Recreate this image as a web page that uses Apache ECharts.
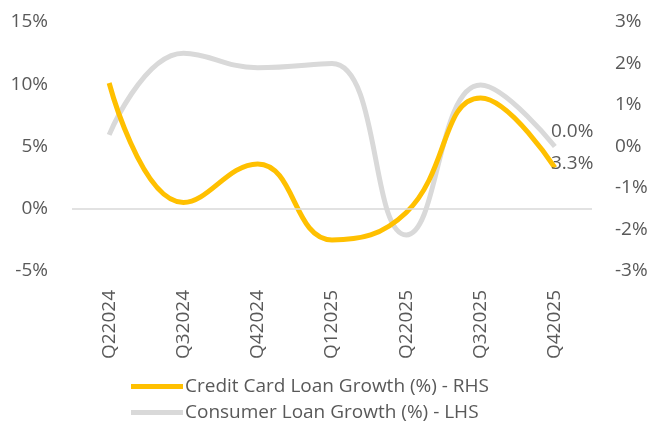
<!DOCTYPE html>
<html>
<head>
<meta charset="utf-8">
<script src="https://cdn.jsdelivr.net/npm/echarts@6/dist/echarts.min.js"></script>
<style>
  html, body { margin: 0; padding: 0; background: #fff; }
  #chart { width: 652px; height: 427px; }
</style>
</head>
<body>
<div id="chart"></div>
<script>
// quarters on the x axis
var quarters = ['Q22024', 'Q32024', 'Q42024', 'Q12025', 'Q22025', 'Q32025', 'Q42025']
// yellow line, plotted against the left scale
var creditCardGrowth = [10.1, 0.5, 3.6, -2.5, -0.3, 8.9, 3.3]
// grey line, plotted against the right scale
var consumerGrowth = [0.28, 2.25, 1.9, 2.0, -2.13, 1.48, 0.0]

var FONT = 'Open Sans'
var TXT = '#595959'

// only the last point gets a value label
function endLabel(values, offsetY) {
  return values.map(function (v, i) {
    if (i !== values.length - 1) return v
    return {
      value: v,
      label: {
        show: true,
        position: 'right',
        offset: [-9, offsetY],
        formatter: v.toFixed(1) + '%',
        color: TXT,
        fontFamily: FONT,
        fontSize: 19,
      },
    }
  })
}

var chart = echarts.init(document.getElementById('chart'))
chart.setOption({
  animation: false,
  grid: { left: 72, right: 60, top: 22, bottom: 156 },
  legend: {
    orient: 'vertical',
    left: 126,
    top: 372,
    itemWidth: 52,
    itemHeight: 5,
    itemGap: 7,
    icon: 'rect',
    textStyle: { color: TXT, fontFamily: FONT, fontSize: 19, padding: [0, 0, 0, -3] },
    data: ['Credit Card Loan Growth (%) - RHS', 'Consumer Loan Growth (%) - LHS'],
  },
  xAxis: {
    type: 'category',
    data: quarters,
    boundaryGap: true,
    axisLine: { show: false },
    axisTick: { show: false },
    axisLabel: { rotate: 90, margin: 19, color: TXT, fontFamily: FONT, fontSize: 19 },
  },
  yAxis: [{
    type: 'value',
    min: -5,
    max: 15,
    interval: 5,
    splitLine: { show: false },
    axisLabel: { formatter: '{value}%', margin: 24, color: TXT, fontFamily: FONT, fontSize: 19 },
  }, {
    type: 'value',
    min: -3,
    max: 3,
    interval: 1,
    splitLine: { show: false },
    axisLabel: { formatter: '{value}%', margin: 23, color: TXT, fontFamily: FONT, fontSize: 19 },
  }],
  series: [{
    name: 'Credit Card Loan Growth (%) - RHS',
    type: 'line',
    yAxisIndex: 0,
    smooth: 0.45,
    symbol: 'circle',
    symbolSize: 0.1,
    color: '#FFC000',
    lineStyle: { width: 5, color: '#FFC000' },
    data: endLabel(creditCardGrowth, -4),
    markLine: {
      silent: true,
      symbol: 'none',
      label: { show: false },
      lineStyle: { color: '#D9D9D9', width: 1.5, type: 'solid' },
      data: [{ yAxis: 0 }],
    },
    z: 3,
  }, {
    name: 'Consumer Loan Growth (%) - LHS',
    type: 'line',
    yAxisIndex: 1,
    smooth: 0.45,
    symbol: 'circle',
    symbolSize: 0.1,
    color: '#D9D9D9',
    lineStyle: { width: 5, color: '#D9D9D9' },
    data: endLabel(consumerGrowth, -15),
    z: 2,
  }],
})
</script>
</body>
</html>
